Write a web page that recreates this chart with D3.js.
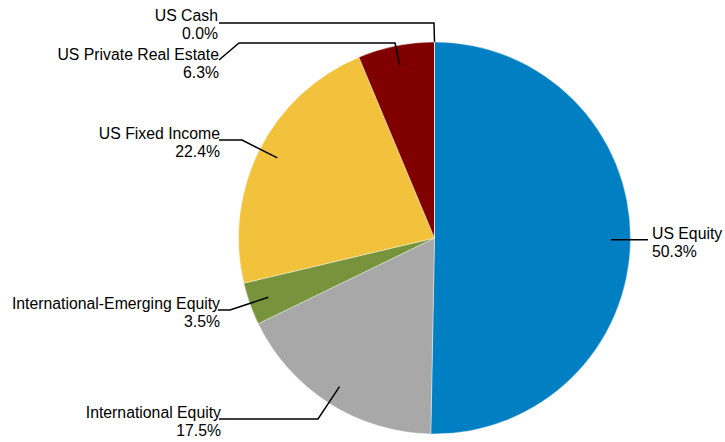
<!DOCTYPE html>
<html>
<head>
<meta charset="utf-8">
<script src="https://cdn.jsdelivr.net/npm/d3@7"></script>
<style>
  html, body { margin: 0; padding: 0; background: #fff; }
  svg { display: block; }
  text { font-family: "Liberation Sans", Arial, sans-serif; font-size: 15.8px; fill: #000; }
</style>
</head>
<body>
<svg id="chart" width="725" height="442"></svg>
<script>
// ---- data ----
const categories = ["US Equity", "International Equity", "International-Emerging Equity", "US Fixed Income", "US Private Real Estate", "US Cash"];
const values = [50.3, 17.5, 3.5, 22.4, 6.3, 0.0];
const colors = ["#0080C2", "#A8A8A8", "#77933C", "#F2C23D", "#800000", "#4F81BD"];

// ---- layout (label anchors and leader elbows) ----
const labelLayout = [
  { x: 652, y: 239, anchor: "start", innerF: 0.9, elbows: [], endX: 648 },
  { x: 221, y: 418, anchor: "end",   innerF: 0.9, elbows: [[318, 419]], endX: 219, endY: 419 },
  { x: 220, y: 309, anchor: "end",   innerF: 0.9, elbows: [[230, 310]], endX: 218, endY: 310 },
  { x: 220, y: 139, anchor: "end",   innerF: 0.9, elbows: [[242, 140]], endX: 219, endY: 140 },
  { x: 219, y: 60,  anchor: "end",   innerF: 0.9, elbows: [[395, 43], [239, 43]], endX: 219, endY: 60 },
  { x: 218, y: 21,  anchor: "end",   innerF: 1.0, elbows: [[434, 23]], endX: 219, endY: 23 }
];

const svg = d3.select("#chart");
const cx = 434.5, cy = 238, r = 196;
const g = svg.append("g").attr("transform", `translate(${cx},${cy})`);

const data = categories.map((c, i) => ({ name: c, value: values[i], color: colors[i], layout: labelLayout[i] }));

const pie = d3.pie().value(d => d.value).sort(null);
const arcs = pie(data);
const arc = d3.arc().innerRadius(0).outerRadius(r);

g.selectAll("path.slice")
  .data(arcs)
  .join("path")
  .attr("class", "slice")
  .attr("d", arc)
  .attr("fill", d => d.data.color)
  .attr("stroke", "#fff")
  .attr("stroke-width", 0.4);

// leader lines
arcs.forEach(a => {
  const L = a.data.layout;
  const mid = (a.startAngle + a.endAngle) / 2;
  const rr = r * L.innerF;
  const p0 = [cx + rr * Math.sin(mid), cy - rr * Math.cos(mid)];
  const pts = [p0];
  L.elbows.forEach(e => pts.push(e));
  pts.push([L.endX, L.endY !== undefined ? L.endY : p0[1]]);
  svg.append("path")
    .attr("d", d3.line()(pts))
    .attr("fill", "none")
    .attr("stroke", "#000")
    .attr("stroke-width", 1.5);
  const t = svg.append("text")
    .attr("text-anchor", L.anchor)
    .attr("x", L.x)
    .attr("y", L.y);
  t.append("tspan").attr("x", L.x).text(a.data.name);
  t.append("tspan").attr("x", L.x).attr("dy", 17.5).text(d3.format(".1f")(a.data.value) + "%");
});
</script>
</body>
</html>
